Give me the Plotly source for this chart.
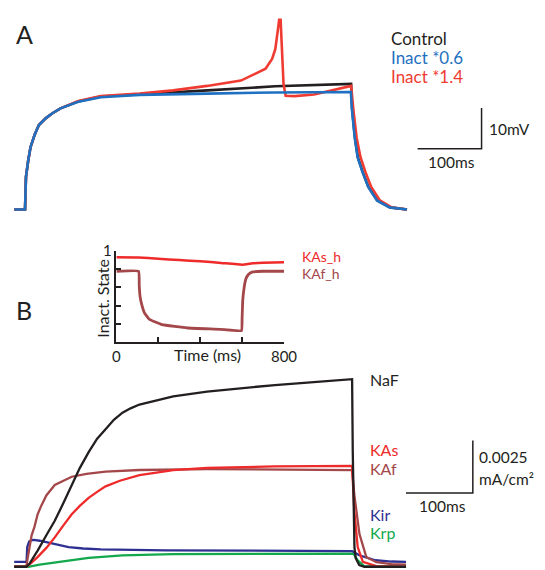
import plotly.graph_objects as go

W, H = 545, 570

# ---------------- Panel A: membrane potential (mV) vs time (ms) ----------------
a_t_control = [-16.7, 0, 0.8, 1.5, 5.0, 8.5, 15.2, 21.7, 32.7, 42.9, 55.5, 83.3, 118.6, 179.2, 285.3, 391.4,
               510, 511.5, 516, 520.5, 528, 537, 551, 571, 597.4]
a_v_control = [-80, -80, -75.7, -72.0, -68.0, -64.8, -61.6, -59.3, -57.6, -56.4, -55.2, -53.5, -52.3, -51.8, -50.8, -49.8,
               -49.2, -55.2, -62.4, -67.2, -70.8, -74.5, -77.8, -79.5, -80]

a_t_low = [-16.7, 0, 0.8, 1.5, 5.0, 8.5, 15.2, 21.7, 32.7, 42.9, 55.5, 83.3, 118.6, 179.2, 285.3, 391.4,
           509.6, 511.1, 515.6, 520.1, 527.7, 536.8, 550.4, 570.1, 597.4]
a_v_low = [-80, -80, -75.7, -72.0, -68.0, -64.8, -61.6, -59.3, -57.6, -56.4, -55.2, -53.6, -52.5, -51.9, -51.6, -51.3,
           -51.2, -55.2, -62.4, -67.2, -70.8, -74.5, -77.8, -79.5, -80]

a_t_high = [-16.7, 0, 0.8, 1.5, 5.0, 8.5, 15.2, 21.7, 32.7, 42.9, 55.5, 83.3, 118.6, 178.9, 231.8, 284.7, 337.7,
            361.1, 376.2, 386.4, 391.4, 395.5, 397.4, 399.7, 402, 404.3, 407.6, 421.7, 452, 482.3, 510,
            513.3, 518.6, 524.7, 532.3, 541.4, 555, 573.2, 597.4]
a_v_high = [-80, -80, -75.7, -72.0, -68.0, -64.8, -61.6, -59.3, -57.6, -56.4, -55.2, -53.4, -52.2, -51.6, -50.8, -49.7, -48.4,
            -46.6, -45.5, -43.1, -40.7, -35.9, -33.5, -33.5, -41.9, -49.2, -52.1, -52.2, -51.8, -50.8, -49.7,
            -55.2, -62.4, -67.2, -70.8, -74.5, -77.8, -79.5, -80]

a_names = ["Control", "Inact *0.6", "Inact *1.4"]

# ---------------- Inset: inactivation state vs time (ms) ----------------
in_t_kas = [0, 105, 200, 300, 400, 500, 600, 650, 700, 800]
in_h_kas = [0.928, 0.926, 0.912, 0.898, 0.884, 0.866, 0.846, 0.862, 0.869, 0.874]

in_t_kaf = [0, 106, 109, 113, 119, 134, 157, 218, 340, 495, 597, 600, 603, 610, 618, 630, 650, 700, 800]
in_h_kaf = [0.775, 0.775, 0.62, 0.50, 0.43, 0.32, 0.25, 0.19, 0.154, 0.14, 0.125, 0.25, 0.45, 0.60, 0.69, 0.74,
            0.768, 0.775, 0.775]

in_names = ["KAs_h", "KAf_h"]
in_xticks = [0, 200, 400, 600, 800]
in_xticklabels = ["0", "", "", "", "800"]
in_yticks = [0, 0.2, 0.4, 0.6, 0.8, 1.0]
in_yticklabels = ["", "", "", "", "", "1"]

# ---------------- Panel B: currents (mA/cm2) vs time (ms) ----------------
b_t_naf = [-18.1, 0, 5, 10, 17.2, 30, 42.6, 55, 68.0, 80, 93.3, 106, 118.6, 131, 143.9, 156, 169.3, 190, 219.9,
           270.4, 320, 371.8, 430, 487.4, 488.4, 490.9, 492.8, 498.1, 505.8, 568.1]
b_i_naf = [0, 0, 0.00015, 0.0004, 0.00078, 0.0015, 0.00219, 0.003, 0.0039, 0.0047, 0.00546, 0.0061, 0.00655, 0.007,
           0.00734, 0.00755, 0.00773, 0.0079, 0.00812, 0.00835, 0.0085, 0.00866, 0.0088, 0.00894, 0.00546, 0.000936,
           0.00041, 0.00008, 0, 0]

b_t_kas = [-18.1, 0, 8, 17.2, 30, 42.6, 55, 68.0, 80, 93.3, 106, 118.6, 140, 169.3, 219.9, 270.4, 371.8, 487.4,
           490.7, 495.8, 503.5, 523.6, 568.1]
b_i_kas = [0, 0, 0.0002, 0.00047, 0.0009, 0.0014, 0.00195, 0.0025, 0.0029, 0.00328, 0.00357, 0.00383, 0.0041,
           0.00437, 0.00461, 0.00471, 0.00478, 0.00481, 0.00265, 0.00094, 0.00023, 0.00003, 0]

b_t_kaf = [-18.1, 0, 2, 4.6, 8, 12.2, 17, 22.3, 30, 42.6, 55, 68.0, 90, 118.6, 169.3, 270.4, 487.4, 490.7, 498.4,
           508.6, 523.6, 546.4, 568.1]
b_i_kaf = [0, 0, 0.0004, 0.00094, 0.0015, 0.0019, 0.0025, 0.0029, 0.0034, 0.0039, 0.0041, 0.00429, 0.00443,
           0.00453, 0.00461, 0.00465, 0.00461, 0.00344, 0.00156, 0.00047, 0.00022, 0.00013, 0.0001]

b_t_kir = [-18.1, 0, 0.4, 1.45, 4.3, 8, 11.6, 20, 39.1, 63.3, 85, 111.6, 208.3, 487.4, 498.1, 522.2, 546.4, 568.1]
b_i_kir = [0.000234, 0.000234, 0.000234, 0.00094, 0.0012, 0.00127, 0.00128, 0.00124, 0.0011, 0.00094, 0.00087,
           0.00083, 0.00078, 0.00075, 0.00055, 0.00031, 0.00025, 0.000234]

b_t_krp = [-18.1, 2.9, 20, 42.6, 63.3, 93.3, 143.9, 219.9, 487.4, 489.5, 495.7, 505.4, 568.1]
b_i_krp = [0, 0, 0.0001, 0.00021, 0.00029, 0.00042, 0.00054, 0.0006, 0.000655, 0.00063, 0.00031, 0.00003, 0]

b_names = ["NaF", "KAs", "KAf", "Kir", "Krp"]

# scale bars: lengths are data values, anchors are layout
SB_T_LEN = 100          # ms
SB_A_LEN = 10           # mV
SB_B_LEN = 0.0025       # mA/cm2
SB_A_T0, SB_A_V0 = 614, -65.1
SB_B_T0, SB_B_I0 = 568, 0.003511

# ---------------- colours ----------------
C_BLACK = "#231f20"
C_BLUE = "#1f70c1"
C_RED = "#ef3b32"
C_KAS = "#ee2a2a"
C_KAF = "#a4474a"
C_KIR = "#2e3192"
C_KRP = "#12a84b"

FONT = "Lato"

fig = go.Figure()

for t, v, c in [(a_t_control, a_v_control, C_BLACK), (a_t_high, a_v_high, C_RED), (a_t_low, a_v_low, C_BLUE)]:
    fig.add_trace(go.Scatter(x=t, y=v, mode="lines", line=dict(color=c, width=2.6),
                             xaxis="x", yaxis="y", hoverinfo="skip"))
fig.add_trace(go.Scatter(x=[SB_A_T0, SB_A_T0 + SB_T_LEN, SB_A_T0 + SB_T_LEN],
                         y=[SB_A_V0, SB_A_V0, SB_A_V0 + SB_A_LEN], mode="lines",
                         line=dict(color=C_BLACK, width=1.5), xaxis="x", yaxis="y", hoverinfo="skip"))

fig.add_trace(go.Scatter(x=in_t_kas, y=in_h_kas, mode="lines",
                         line=dict(color=C_KAS, width=2.5, shape="spline", smoothing=0.3),
                         xaxis="x2", yaxis="y2", hoverinfo="skip"))
fig.add_trace(go.Scatter(x=in_t_kaf, y=in_h_kaf, mode="lines",
                         line=dict(color=C_KAF, width=2.8, shape="spline", smoothing=0.3),
                         xaxis="x2", yaxis="y2", hoverinfo="skip"))

for t, i, c in [(b_t_krp, b_i_krp, C_KRP), (b_t_kir, b_i_kir, C_KIR), (b_t_kaf, b_i_kaf, C_KAF),
                (b_t_kas, b_i_kas, C_KAS), (b_t_naf, b_i_naf, C_BLACK)]:
    fig.add_trace(go.Scatter(x=t, y=i, mode="lines", line=dict(color=c, width=2.3),
                             xaxis="x3", yaxis="y3", hoverinfo="skip"))
fig.add_trace(go.Scatter(x=[SB_B_T0, SB_B_T0 + SB_T_LEN, SB_B_T0 + SB_T_LEN],
                         y=[SB_B_I0, SB_B_I0, SB_B_I0 + SB_B_LEN], mode="lines",
                         line=dict(color=C_BLACK, width=1.5), xaxis="x3", yaxis="y3", hoverinfo="skip"))


def px(x, y):
    return x / W, 1 - y / H


def ann(text, x, y, size, color=C_BLACK, xanchor="left", angle=0):
    ax, ay = px(x, y)
    return dict(text=text, x=ax, y=ay, xref="paper", yref="paper", xanchor=xanchor, yanchor="middle",
                showarrow=False, textangle=angle, font=dict(family=FONT, size=size, color=color))


annotations = [
    ann("A", 21, 24, 25, xanchor="center"),
    ann("B", 21, 305, 25, xanchor="center"),
    ann(a_names[0], 397, 29, 17, C_BLACK),
    ann(a_names[1], 397, 48, 17, C_BLUE),
    ann(a_names[2], 397, 68, 17, C_RED),
    ann("10mV", 499, 121, 15.5),
    ann("100ms", 462, 155, 15.5, xanchor="center"),
    ann(in_names[0], 306, 251, 14, C_KAS),
    ann(in_names[1], 306, 268, 14, C_KAF),
    ann("Time (ms)", 210, 351, 16, xanchor="center"),
    ann("Inact. State", 102, 293, 16, xanchor="center", angle=-90),
    ann(b_names[0], 376, 376, 16, C_BLACK),
    ann(b_names[1], 376, 447, 16, C_KAS),
    ann(b_names[2], 376, 467, 16, C_KAF),
    ann(b_names[3], 376, 513, 16, C_KIR),
    ann(b_names[4], 376, 532, 16, C_KRP),
    ann("0.0025", 488, 455, 15.5),
    ann("mA/cm²", 488, 477, 15.5),
    ann("100ms", 453, 505, 15.5, xanchor="center"),
]

A_T_RANGE = [(0 - 21.7) / 0.66, (545 - 21.7) / 0.66]
B_T_RANGE = [(0 - 23) / 0.69, (545 - 23) / 0.69]
hidden = dict(visible=False, showgrid=False, zeroline=False)
inset_axis = dict(showline=True, linecolor=C_BLACK, linewidth=1.5, ticks="inside", ticklen=5, tickwidth=1.5,
                  tickcolor=C_BLACK, showgrid=False, zeroline=False,
                  tickfont=dict(family=FONT, size=15, color=C_BLACK))

fig.update_layout(
    width=W, height=H, margin=dict(l=0, r=0, t=0, b=0),
    paper_bgcolor="white", plot_bgcolor="rgba(0,0,0,0)",
    showlegend=False, hovermode=False,
    xaxis=dict(domain=[0, 1], range=A_T_RANGE, anchor="y", **hidden),
    yaxis=dict(domain=[1 - 220 / H, 1], range=[-84.10, -31.08], anchor="x", **hidden),
    xaxis3=dict(domain=[0, 1], range=B_T_RANGE, anchor="y3", **hidden),
    yaxis3=dict(domain=[0, 210 / H], range=[-0.000154, 0.009677], anchor="x3", **hidden),
    xaxis2=dict(domain=[116 / W, 289 / W], range=[0, 800], anchor="y2",
                tickvals=in_xticks, ticktext=in_xticklabels, **inset_axis),
    yaxis2=dict(domain=[1 - 338 / H, 1 - 245 / H], range=[0, 1], anchor="x2",
                tickvals=in_yticks, ticktext=in_yticklabels, **inset_axis),
    annotations=annotations,
)

fig.write_html("out.html")
